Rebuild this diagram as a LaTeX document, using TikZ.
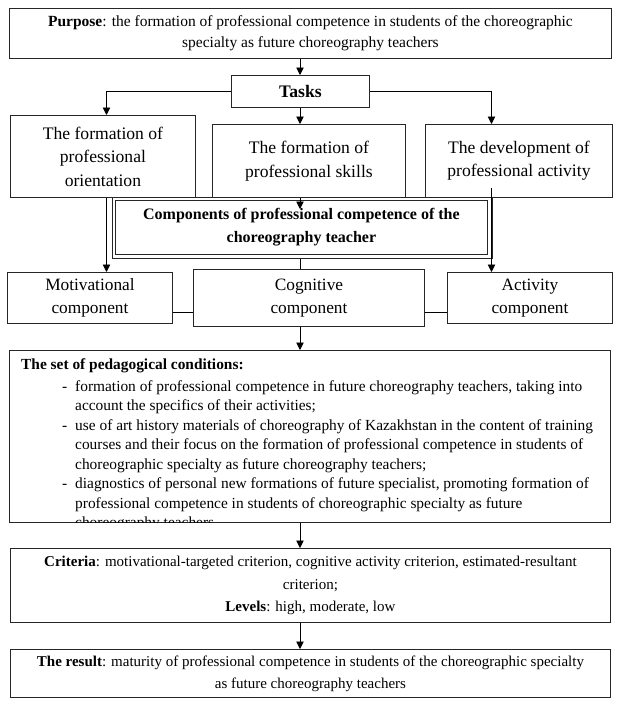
\documentclass[tikz,border=0pt]{standalone}
\usepackage{fontspec}
\setmainfont{Liberation Serif}
\usetikzlibrary{arrows.meta}
\begin{document}
\begin{tikzpicture}[x=1pt,y=-1pt,
  box/.style={draw=black!85,line width=0.9pt,anchor=north west,inner sep=0pt,align=center},
  con/.style={line width=0.9pt},
  arr/.style={con,-{Triangle[length=7.5pt,width=7.5pt]}},
  fmain/.style={font=\fontsize{15.5}{21}\selectfont},
  fbig/.style={font=\fontsize{17.6}{23.5}\selectfont},
  fmid/.style={font=\fontsize{17.3}{23}\selectfont},
  ]
\useasboundingbox[fill=white] (0,0) rectangle (619,707);

\node[box,fmain,minimum width=602pt,minimum height=50pt] (purpose) at (9,8)
  {\textbf{Purpose}: the formation of professional competence in students of the choreographic\\specialty as future choreography teachers};
\node[box,font=\fontsize{17.6}{20}\selectfont\bfseries,minimum width=138pt,minimum height=32pt] (tasks) at (231,75) {Tasks};

\node[box,fbig,minimum width=185pt,minimum height=82pt] (box1) at (10,115)
  {The formation of\\professional\\orientation};
\node[box,fbig,minimum width=193pt,minimum height=73pt] (box2) at (212,124)
  {The formation of\\professional skills};
\node[box,fbig,minimum width=187pt,minimum height=73pt] (box3) at (425,124)
  {The development of\\professional activity};

\node[box,minimum width=380pt,minimum height=61pt] (compout) at (112,197) {};
\node[box,font=\fontsize{16}{23}\selectfont\bfseries,minimum width=372pt,minimum height=54pt] (compin) at (115,200)
  {Components of professional competence of the\\choreography teacher};

\node[box,fmid,minimum width=165pt,minimum height=51pt] (motiv) at (7,272)
  {Motivational\\component};
\node[box,fmid,minimum width=231pt,minimum height=57pt] (cog) at (193,269)
  {Cognitive\\component};
\node[box,fmid,minimum width=165pt,minimum height=51pt] (activ) at (447,272)
  {Activity\\component};

\node[box,minimum width=601pt,minimum height=172pt] (cond) at (9,350) {};
\begin{scope}
\clip (cond.north west) rectangle (cond.south east);
\node[anchor=north west,inner sep=0pt,align=left,font=\fontsize{15.4}{19.5}\selectfont] (condtext) at (21,358)
  {\textbf{The set of pedagogical conditions:}\\[2.5pt]
   \hspace*{41pt}\makebox[13pt][l]{-}formation of professional competence in future choreography teachers, taking into\\
   \hspace*{54pt}account the specifics of their activities;\\
   \hspace*{41pt}\makebox[13pt][l]{-}use of art history materials of choreography of Kazakhstan in the content of training\\
   \hspace*{54pt}courses and their focus on the formation of professional competence in students of\\
   \hspace*{54pt}choreographic specialty as future choreography teachers;\\
   \hspace*{41pt}\makebox[13pt][l]{-}diagnostics of personal new formations of future specialist, promoting formation of\\
   \hspace*{54pt}professional competence in students of choreographic specialty as future\\
   \hspace*{54pt}choreography teachers.};
\end{scope}

\node[box,minimum width=600pt,minimum height=74pt,font=\fontsize{15}{22.5}\selectfont] (crit) at (10,548)
  {\textbf{Criteria}: motivational-targeted criterion, cognitive activity criterion, estimated-resultant\\criterion;\\\textbf{Levels}: high, moderate, low};
\node[box,minimum width=600pt,minimum height=48pt,font=\fontsize{15}{22}\selectfont] (result) at (10,649)
  {\textbf{The result}: maturity of professional competence in students of the choreographic specialty\\as future choreography teachers};

\coordinate (L) at (106.5,0);
\coordinate (R) at (491.5,0);
\coordinate (M) at (300,0);
\coordinate (H) at (0,312);
\coordinate (compArrow) at (300,209);
\coordinate (rstart) at (491.5,188);

\draw[arr] (M |- purpose.south) -- (M |- tasks.north);
\draw[arr] (tasks.west) -| (L |- box1.north);
\draw[arr] (tasks.east) -| (R |- box3.north);
\draw[arr] (M |- tasks.south) -- (M |- box2.north);
\draw[arr] (M |- box2.south) -- (compArrow);
\draw[arr] (L |- box1.south) -- (L |- motiv.north);
\draw[arr] (rstart) -- (R |- activ.north);
\draw[con] (M |- compout.south) -- (M |- cog.north);
\draw[con] (motiv.east |- H) -- (cog.west |- H);
\draw[con] (cog.east |- H) -- (activ.west |- H);
\draw[arr] (M |- cog.south) -- (M |- cond.north);
\draw[arr] (M |- cond.south) -- (M |- crit.north);
\draw[arr] (M |- crit.south) -- (M |- result.north);
\end{tikzpicture}
\end{document}
